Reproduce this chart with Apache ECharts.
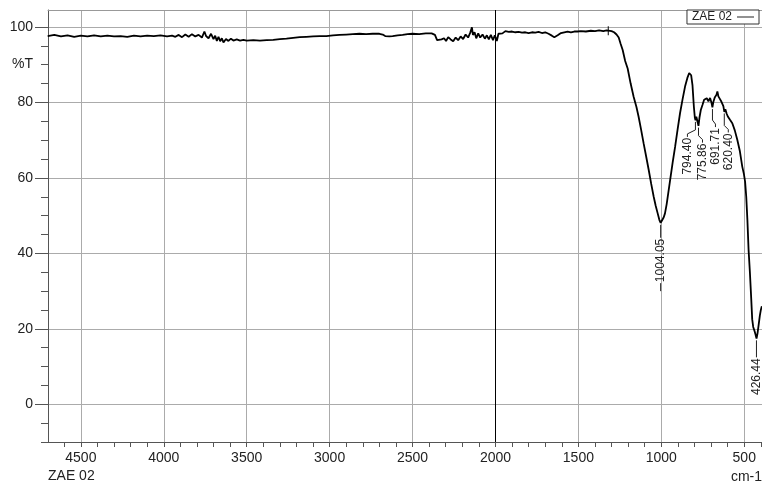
<!DOCTYPE html>
<html>
<head>
<meta charset="utf-8">
<script src="https://cdn.jsdelivr.net/npm/echarts@6/dist/echarts.min.js"></script>
<style>
html, body { margin: 0; padding: 0; background: #fff; }
#chart { width: 762px; height: 485px; }
</style>
</head>
<body>
<div id="chart"></div>
<script>
// IR 光谱 ZAE 02
const sampleName = 'ZAE 02';

const wavenumbers = [
    4700, 4660, 4620, 4580, 4540, 4500, 4460, 4420, 4380, 4340, 4300, 4260, 4220, 4180, 4140, 4100,
    4060, 4020, 3980, 3950, 3930, 3910, 3890, 3870, 3850, 3830, 3810, 3790, 3770, 3755, 3745, 3730,
    3715, 3700, 3690, 3680, 3670, 3660, 3650, 3640, 3625, 3610, 3595, 3580, 3560, 3540, 3520, 3500,
    3460, 3420, 3380, 3340, 3300, 3260, 3220, 3180, 3140, 3100, 3060, 3020, 2980, 2940, 2900, 2860,
    2820, 2780, 2740, 2700, 2680, 2665, 2640, 2620, 2590, 2560, 2530, 2500, 2460, 2420, 2385, 2365,
    2352, 2340, 2325, 2310, 2298, 2285, 2270, 2255, 2240, 2225, 2210, 2195, 2180, 2165, 2152, 2142,
    2136, 2126, 2116, 2104, 2092, 2078, 2064, 2052, 2040, 2028, 2015, 2004, 1992, 1982, 1970, 1958,
    1940, 1920, 1900, 1880, 1860, 1840, 1820, 1800, 1780, 1760, 1740, 1720, 1700, 1680, 1660, 1645,
    1625, 1605, 1585, 1565, 1545, 1525, 1505, 1485, 1455, 1425, 1400, 1375, 1350, 1330, 1320, 1300,
    1285, 1270, 1257, 1245, 1233, 1218, 1203, 1185, 1167, 1150, 1137, 1122, 1107, 1092, 1076, 1061,
    1046, 1034, 1022, 1012, 1004, 995, 986, 978, 968, 958, 947, 932, 917, 902, 887, 872,
    857, 843, 832, 826, 820, 812, 804, 798, 794, 789, 783, 776, 770, 762, 752, 742,
    734, 726, 716, 706, 698, 692, 686, 678, 668, 662, 656, 648, 640, 632, 626, 620,
    614, 606, 598, 586, 572, 557, 542, 527, 512, 502, 495, 488, 481, 474, 466, 458,
    452, 446, 438, 432, 426, 420, 414, 406, 400, 394
];

const transmittance = [
    97.6, 97.9, 97.5, 97.8, 97.4, 97.7, 97.5, 97.8, 97.5, 97.7, 97.5, 97.6, 97.4, 97.7, 97.5, 97.7,
    97.6, 97.8, 97.5, 97.7, 97.4, 97.9, 97.3, 98.0, 97.4, 98.1, 97.5, 97.9, 97.2, 98.8, 97.6, 97.0,
    98.2, 96.8, 97.7, 96.3, 97.4, 96.2, 97.0, 95.9, 96.8, 96.3, 96.9, 96.4, 96.7, 96.4, 96.6, 96.4,
    96.5, 96.4, 96.5, 96.6, 96.8, 96.9, 97.1, 97.3, 97.4, 97.5, 97.6, 97.6, 97.8, 97.9, 98.0, 98.1,
    98.2, 98.1, 98.2, 98.2, 98.0, 97.6, 97.5, 97.6, 97.8, 97.9, 98.1, 98.2, 98.1, 98.3, 98.3, 97.9,
    96.5, 96.1, 96.7, 97.0, 96.3, 97.3, 96.7, 96.2, 97.2, 96.5, 97.5, 96.8, 98.0, 97.2, 98.5, 99.9,
    97.9, 98.6, 97.0, 98.3, 97.2, 98.0, 96.9, 97.8, 96.7, 97.9, 96.5, 97.8, 96.3, 98.2, 98.7, 98.3,
    98.9, 98.7, 98.8, 98.6, 98.7, 98.5, 98.6, 98.4, 98.6, 98.5, 98.7, 98.4, 98.6, 98.2, 97.7, 97.3,
    97.8, 98.4, 98.6, 98.8, 98.6, 98.8, 98.8, 98.9, 98.8, 99.0, 98.9, 99.1, 98.9, 99.1, 99.0, 98.9,
    98.6, 98.0, 97.2, 95.5, 93.9, 91.0, 89.0, 85.0, 81.5, 78.8, 76.2, 72.8, 69.2, 65.8, 62.1, 58.4,
    55.0, 52.6, 50.6, 48.9, 48.1, 48.6, 49.5, 50.6, 53.0, 56.0, 59.4, 64.0, 68.2, 72.8, 77.2, 80.8,
    84.2, 86.5, 87.8, 88.1, 87.2, 84.5, 79.0, 76.0, 75.3, 76.2, 76.0, 73.8, 76.0, 78.0, 79.3, 80.7,
    80.2, 81.1, 80.3, 81.2, 80.0, 78.7, 80.2, 81.3, 82.0, 82.9, 81.6, 81.0, 80.4, 79.6, 79.0, 77.5,
    78.2, 77.0, 76.2, 75.4, 74.5, 72.6, 70.1, 67.2, 63.0, 61.0, 59.0, 55.0, 48.8, 41.0, 35.0, 28.0,
    22.5, 20.5, 19.4, 18.5, 17.4, 18.8, 20.8, 23.5, 25.0, 26.0
];

const xTicks = [4500, 4000, 3500, 3000, 2500, 2000, 1500, 1000, 500];
const yTicks = [0, 20, 40, 60, 80, 100];
const peakWavenumbers = [1004.05, 794.40, 775.86, 691.71, 620.40, 426.44];
const markerWavenumbers = [1320];

// 小刻度
const xMinorTicks = [];
for (let v = 400; v <= 4600; v += 100) xMinorTicks.push(v);
const yMinorTicks = [];
for (let v = -10; v <= 100; v += 5) yMinorTicks.push(v);

// 峰标注的样式 (偏移, 引线长度)
const peakLabelStyle = [
    { dx: 0, lead: 15, tail: 8 },
    { dx: -8, lead: 17, tail: 0 },
    { dx: 4, lead: 17, tail: 0 },
    { dx: 3, lead: 20, tail: 0 },
    { dx: 4, lead: 21, tail: 0 },
    { dx: 0, lead: 19, tail: 0 }
];

const FONT = "'Liberation Sans', Arial, sans-serif";

function transmittanceAt(wn) {
    for (let i = 0; i < wavenumbers.length - 1; i++) {
        const a = wavenumbers[i], b = wavenumbers[i + 1];
        if (wn <= a && wn >= b) {
            const t = (a - wn) / (a - b);
            return transmittance[i] + t * (transmittance[i + 1] - transmittance[i]);
        }
    }
    return transmittance[transmittance.length - 1];
}

const measureCtx = document.createElement('canvas').getContext('2d');
measureCtx.font = '12px ' + FONT;

function renderPeakLabel(params, api) {
    const idx = params.dataIndex;
    const st = peakLabelStyle[idx];
    const text = peakWavenumbers[idx].toFixed(2);
    const pt = api.coord([api.value(0), api.value(1)]);
    const x = pt[0], y = pt[1];
    const tx = x + st.dx;
    let pts;
    if (st.dx === 0) {
        pts = [[x, y + 2], [x, y + st.lead]];
    } else {
        pts = [[x, y + 2], [x, y + st.lead - 7], [tx, y + st.lead - 3], [tx, y + st.lead]];
    }
    const textTop = y + st.lead + 1;
    const w = measureCtx.measureText(text).width;
    const children = [
        { type: 'polyline', shape: { points: pts }, style: { stroke: '#222', lineWidth: 1, fill: null } },
        {
            type: 'text', x: tx, y: textTop, rotation: Math.PI / 2,
            style: { text: text, textAlign: 'right', textVerticalAlign: 'middle', font: '12px ' + FONT, fill: '#222' }
        }
    ];
    if (st.tail > 0) {
        children.push({
            type: 'line',
            shape: { x1: tx, y1: textTop + w + 1, x2: tx, y2: textTop + w + 1 + st.tail },
            style: { stroke: '#222', lineWidth: 1 }
        });
    }
    return { type: 'group', children: children };
}

const chart = echarts.init(document.getElementById('chart'), null, { renderer: 'canvas' });

const xRange = { min: 393, max: 4698 };
const yRange = { min: -10, max: 104.5 };
const plainNumber = v => String(v);

const option = {
    animation: false,
    backgroundColor: '#fff',
    grid: { left: 48, right: 0, top: 10, bottom: 43 },
    legend: {
        right: 3, top: 10,
        align: 'right',
        icon: 'rect',
        itemWidth: 17, itemHeight: 1,
        padding: [1, 5, 1, 5],
        borderColor: '#333', borderWidth: 1, borderRadius: 0,
        backgroundColor: '#fff',
        itemStyle: { color: '#222' },
        textStyle: { fontFamily: FONT, fontSize: 12, color: '#222' },
        data: [sampleName]
    },
    xAxis: [
        {
            type: 'value', inverse: true, min: xRange.min, max: xRange.max, position: 'bottom',
            axisLine: { show: true, onZero: false, lineStyle: { color: '#555', width: 1 } },
            axisTick: { show: true, customValues: xMinorTicks, length: 5, lineStyle: { color: '#555' } },
            axisLabel: { show: false },
            splitLine: { show: false }
        },
        {
            type: 'value', inverse: true, min: xRange.min, max: xRange.max, position: 'bottom',
            axisLine: { show: false, onZero: false },
            axisTick: { show: true, customValues: xTicks, length: 5, lineStyle: { color: '#555' } },
            axisLabel: {
                show: true, customValues: xTicks, margin: 9, formatter: plainNumber,
                fontFamily: FONT, fontSize: 14, color: '#222'
            },
            splitLine: { show: true, lineStyle: { color: '#ababab', width: 1 } }
        },
        {
            type: 'value', inverse: true, min: xRange.min, max: xRange.max, position: 'top',
            axisLine: { show: true, onZero: false, lineStyle: { color: '#999', width: 1 } },
            axisTick: { show: false }, axisLabel: { show: false }, splitLine: { show: false }
        }
    ],
    yAxis: [
        {
            type: 'value', min: yRange.min, max: yRange.max, position: 'left',
            axisLine: { show: true, onZero: false, lineStyle: { color: '#555', width: 1 } },
            axisTick: { show: true, customValues: yMinorTicks, length: 7, lineStyle: { color: '#555' } },
            axisLabel: { show: false },
            splitLine: { show: false }
        },
        {
            type: 'value', min: yRange.min, max: yRange.max, position: 'left',
            axisLine: { show: false, onZero: false },
            axisTick: { show: true, customValues: yTicks, length: 13, lineStyle: { color: '#555' } },
            axisLabel: {
                show: true, customValues: yTicks, margin: 15, formatter: plainNumber,
                fontFamily: FONT, fontSize: 14, color: '#222'
            },
            splitLine: { show: true, lineStyle: { color: '#ababab', width: 1 } }
        }
    ],
    graphic: [
        { type: 'text', left: 12, top: 57, style: { text: '%T', font: '14px ' + FONT, fill: '#222' } },
        { type: 'text', left: 48, top: 469, style: { text: sampleName, font: '14px ' + FONT, fill: '#222' } },
        { type: 'text', right: 0, top: 470, style: { text: 'cm-1', font: '14px ' + FONT, fill: '#222' } }
    ],
    series: [
        {
            name: sampleName,
            type: 'line',
            symbol: 'none',
            data: wavenumbers.map((w, i) => [w, transmittance[i]]),
            lineStyle: { color: '#000', width: 1.8 },
            itemStyle: { color: '#000' },
            z: 3,
            markLine: {
                silent: true, symbol: 'none', label: { show: false },
                lineStyle: { color: '#000', width: 1, type: 'solid' },
                data: [{ xAxis: 2000 }]
            },
            markPoint: {
                symbol: 'rect', symbolSize: [1, 9],
                itemStyle: { color: '#000' },
                label: { show: false },
                data: markerWavenumbers.map(w => ({ coord: [w, transmittanceAt(w)] }))
            }
        },
        {
            type: 'custom',
            clip: false,
            silent: true,
            z: 4,
            renderItem: renderPeakLabel,
            data: peakWavenumbers.map(w => [w, transmittanceAt(w)])
        }
    ]
};

chart.setOption(option);
</script>
</body>
</html>
